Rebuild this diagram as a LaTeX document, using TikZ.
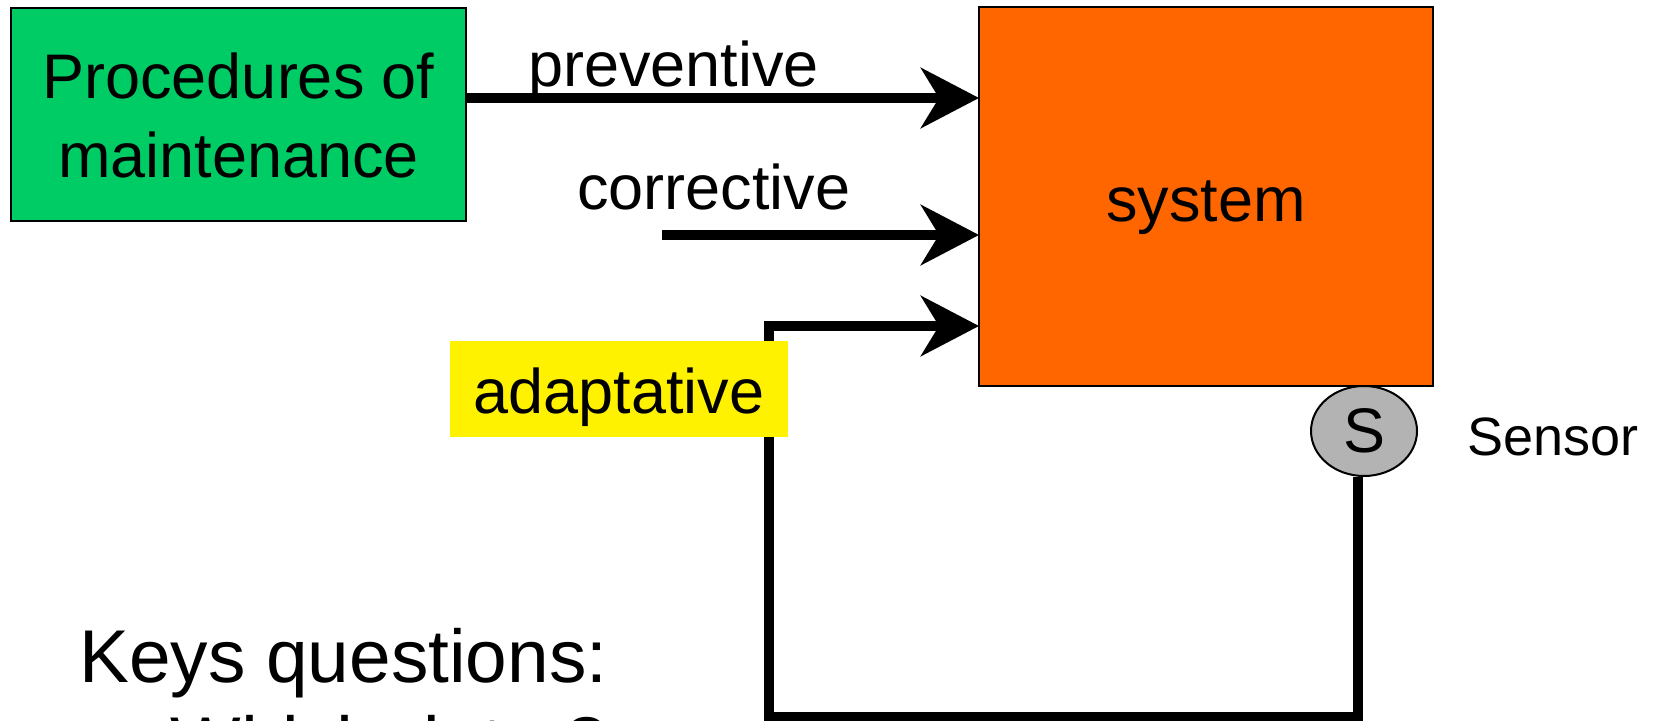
\documentclass[tikz,border=0pt]{standalone}
\usepackage{fontspec}
\setmainfont{Liberation Sans}
\usetikzlibrary{arrows.meta,shapes.geometric}
\definecolor{procgreen}{RGB}{0,204,102}
\definecolor{sysorange}{RGB}{255,102,0}
\definecolor{sensorgray}{RGB}{179,179,179}

\begin{document}
\begin{tikzpicture}[x=0.5pt,y=-0.5pt,
    big/.style={font=\fontsize{31.5}{39.5}\selectfont},
    block/.style={draw=black,line width=1pt,inner sep=0pt,big,align=center},
    flow/.style={line width=5pt,-{Stealth[length=29pt,width=30pt,inset=9pt]}}]
    % 画布范围
    \useasboundingbox (0,0) rectangle (1654,721);
    \clip (0,0) rectangle (1654,721);

    % 维护程序与系统两个方框
    \node[block,fill=procgreen,minimum width=227.5pt,minimum height=106.5pt] (proc) at (238.5,115) {Procedures of\\maintenance};
    \node[block,fill=sysorange,minimum width=227pt,minimum height=189.5pt,text height=25pt,text depth=0pt] (sys) at (1206,196.5) {system};

    % 传感器
    \node[draw=black,line width=1pt,ellipse,fill=sensorgray,minimum width=53pt,minimum height=45pt,inner sep=0pt,big] (sensor) at (1364,431) {S};
    \node[anchor=west,inner sep=0pt,font=\fontsize{27}{32}\selectfont] (senslbl) at (1467,437) {Sensor};

    % 三个输入端点
    \coordinate (prevIn) at (979,98);
    \coordinate (corrFrom) at (662,235);
    \coordinate (corrIn) at (979,235);
    \coordinate (adapIn) at (979,326);
    \coordinate (fbLow) at (769,717);

    % 预防性维护与纠正性维护
    \draw[flow] (proc.east |- prevIn) -- (prevIn);
    \draw[flow] (corrFrom) -- (corrIn);
    \node[big,anchor=base west,inner sep=0pt] (prevlbl) at (528,87) {preventive};
    \node[big,anchor=base west,inner sep=0pt] (corrlbl) at (577,210) {corrective};

    % 反馈回路：传感器 -> 自适应
    \draw[flow] ([xshift=-3pt]sensor.south) |- (fbLow) |- (adapIn);
    \node[big,fill=yellow,minimum width=169pt,minimum height=48pt,inner sep=0pt,text height=25pt,text depth=0pt] (adaplbl) at (619,389) {adaptative};

    % 关键问题
    \node[anchor=base west,inner sep=0pt,font=\fontsize{37.4}{44}\selectfont] (keys) at (79,682) {Keys questions:};
    \node[anchor=base west,inner sep=0pt,font=\fontsize{37.4}{44}\selectfont] (which) at (170,769) {Which data ?};
\end{tikzpicture}
\end{document}
